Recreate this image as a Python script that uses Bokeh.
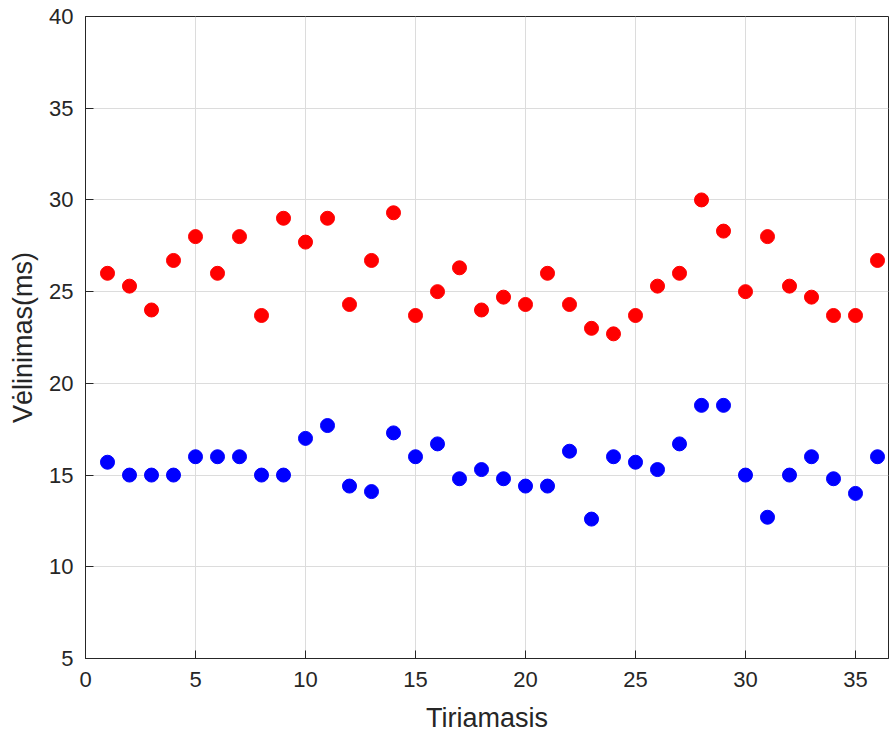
from bokeh.plotting import figure
from bokeh.models import Range1d, FixedTicker
from bokeh.embed import file_html
from bokeh.resources import INLINE

trials = list(range(1, 37))
red_delay = [26.0, 25.3, 24.0, 26.7, 28.0, 26.0, 28.0, 23.7, 29.0, 27.7,
             29.0, 24.3, 26.7, 29.3, 23.7, 25.0, 26.3, 24.0, 24.7, 24.3,
             26.0, 24.3, 23.0, 22.7, 23.7, 25.3, 26.0, 30.0, 28.3, 25.0,
             28.0, 25.3, 24.7, 23.7, 23.7, 26.7]
blue_delay = [15.7, 15.0, 15.0, 15.0, 16.0, 16.0, 16.0, 15.0, 15.0, 17.0,
              17.7, 14.4, 14.1, 17.3, 16.0, 16.7, 14.8, 15.3, 14.8, 14.4,
              14.4, 16.3, 12.6, 16.0, 15.7, 15.3, 16.7, 18.8, 18.8, 15.0,
              12.7, 15.0, 16.0, 14.8, 14.0, 16.0]
x_ticks = [0, 5, 10, 15, 20, 25, 30, 35]
y_ticks = [5, 10, 15, 20, 25, 30, 35, 40]

FONT = "Liberation Sans"
AX = "#262626"

p = figure(width=889, height=743, output_backend="svg", toolbar_location=None,
           x_range=Range1d(0, 36.5), y_range=Range1d(5, 40),
           min_border_left=85, min_border_top=16, min_border_right=1,
           min_border_bottom=85, x_axis_label="Tiriamasis",
           y_axis_label="Vėlinimas(ms)")
p.outline_line_color = AX
p.outline_line_width = 1
p.background_fill_color = "white"
p.border_fill_color = "white"

for ax in (p.xaxis[0], p.yaxis[0]):
    ax.axis_line_color = AX
    ax.major_tick_line_color = AX
    ax.major_tick_in = 8
    ax.major_tick_out = 0
    ax.minor_tick_line_color = None
    ax.major_label_text_font = FONT
    ax.major_label_text_font_size = "22px"
    ax.major_label_text_color = AX
    ax.axis_label_text_font = FONT
    ax.axis_label_text_font_size = "27px"
    ax.axis_label_text_font_style = "normal"
    ax.axis_label_text_color = AX

p.xaxis[0].ticker = FixedTicker(ticks=x_ticks)
p.yaxis[0].ticker = FixedTicker(ticks=y_ticks)
p.xaxis[0].major_label_standoff = 13
p.yaxis[0].major_label_standoff = 12
p.xaxis[0].axis_label_standoff = 13
p.yaxis[0].axis_label_standoff = 8

p.xgrid.ticker = FixedTicker(ticks=x_ticks)
p.ygrid.ticker = FixedTicker(ticks=y_ticks)
for g in (p.xgrid[0], p.ygrid[0]):
    g.grid_line_color = "#dcdcdc"
    g.grid_line_width = 1

p.scatter(trials, red_delay, size=14, color="#ff0000", line_color="#ff0000")
p.scatter(trials, blue_delay, size=14, color="#0000ff", line_color="#0000ff")

open("out.html", "w").write(file_html(p, INLINE))
